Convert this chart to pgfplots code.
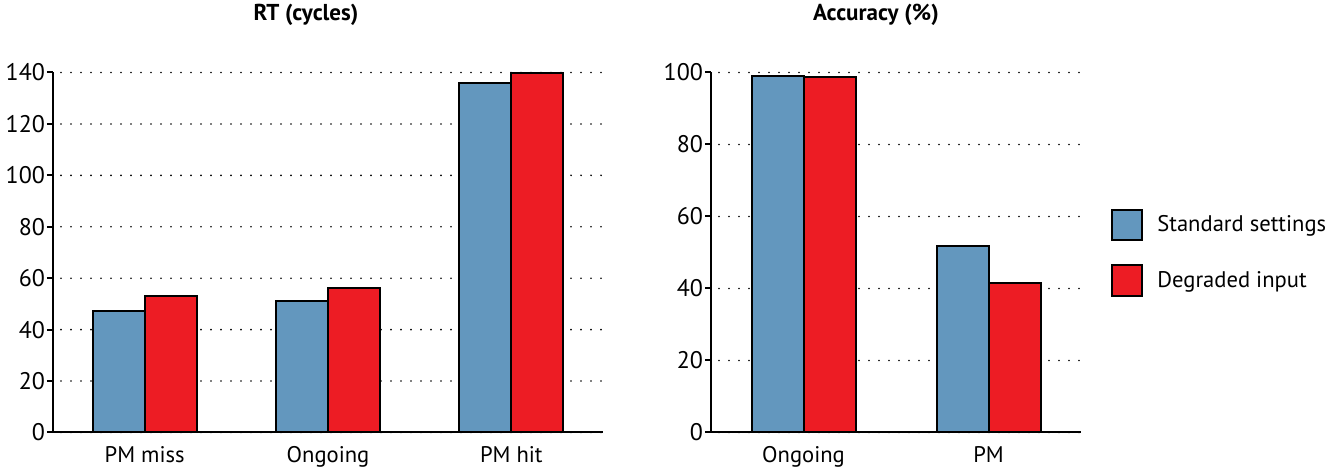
\documentclass[border=0pt]{standalone}
\usepackage{fontspec}
\setmainfont{PT Sans}
\usepackage{pgfplots}
\pgfplotsset{compat=1.18}

\definecolor{stdblue}{RGB}{99,151,190}
\definecolor{degred}{RGB}{237,28,36}

\pgfplotsset{
  barbase/.style={
    scale only axis,
    height=180pt,
    ybar=0pt,
    bar width=26pt,
    ymin=0,
    xmin=-0.5,
    axis lines=left,
    axis line style={-, line width=1pt, black},
    xtick=data,
    xtick style={draw=none},
    ytick style={line width=1pt, black},
    tick align=outside,
    major tick length=3pt,
    ymajorgrids,
    grid style={black, line width=0.9pt, line cap=round, dash pattern=on 0pt off 5pt, dash phase=-4pt},
    yticklabel style={font=\fontsize{12}{14}\selectfont, xshift=2.5pt},
    xticklabel style={font=\fontsize{11.3}{13}\selectfont, yshift=-0.5pt},
    /pgf/number format/assume math mode=true,
    title style={font=\fontsize{11.5}{13}\selectfont\bfseries, anchor=center, yshift=23pt},
    every axis plot/.append style={draw=black, line width=1pt},
    legend image code/.code={\draw[#1, line width=1pt] (0pt,-7.5pt) rectangle (15pt,7.5pt);},
  }
}

\begin{document}
\begin{tikzpicture}
\useasboundingbox (-26.5pt,-19.25pt) rectangle (640pt,216.25pt);

% RT panel
\begin{axis}[
  barbase,
  width=275pt,
  xmax=2.5,
  ymax=140,
  ytick={0,20,...,140},
  xticklabels={PM miss, Ongoing, PM hit},
  title={RT (cycles)},
  title style={at={(0.46,1)}},
]
\addplot[fill=stdblue] coordinates {(0,47.3) (1,51.2) (2,135.8)};
\addplot[fill=degred] coordinates {(0,52.9) (1,56.2) (2,139.7)};
\end{axis}

% Accuracy panel
\begin{axis}[
  barbase,
  at={(329pt,0pt)},
  width=185pt,
  xmax=1.5,
  ymax=100,
  ytick={0,20,...,100},
  xticklabels={Ongoing, PM},
  title={Accuracy (\%)},
  title style={at={(0.446,1)}},
  legend style={at={(1.081,0.5)}, anchor=west, draw=none, fill=none,
    inner xsep=0pt, row sep=12pt,
    font=\fontsize{11.3}{13}\selectfont,
    nodes={inner xsep=7pt}},
  legend cell align=left,
]
\addplot[fill=stdblue] coordinates {(0,98.9) (1,51.8)};
\addplot[fill=degred] coordinates {(0,98.7) (1,41.6)};
\legend{Standard settings, Degraded input}
\end{axis}
\end{tikzpicture}
\end{document}
